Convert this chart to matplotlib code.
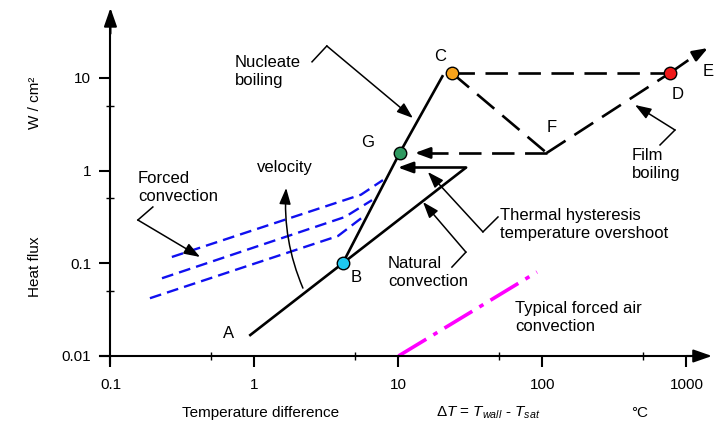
import matplotlib.pyplot as plt
from matplotlib.ticker import NullFormatter

plt.rcParams['font.family'] = ['Liberation Sans', 'DejaVu Sans']
plt.rcParams['mathtext.fontset'] = 'custom'
plt.rcParams['mathtext.rm'] = 'Liberation Sans'
plt.rcParams['mathtext.it'] = 'Liberation Sans:italic'

# axis ticks
X_TICKS = [0.1, 1, 10, 100, 1000]
X_TICK_LABELS = ['0.1', '1', '10', '100', '1000']
X_MINOR = [0.5, 5, 50, 500]
Y_TICKS = [0.01, 0.1, 1, 10]
Y_TICK_LABELS = ['0.01', '0.1', '1', '10']
Y_MINOR = [0.05, 0.5, 5]

# boiling curve: delta T (C) vs heat flux (W/cm2)
natural_dt = [0.92, 4.1, 29.5]
natural_q = [0.0165, 0.1, 1.08]
nucleate_dt = [4.1, 10.2, 20.4]
nucleate_q = [0.1, 1.55, 10.7]
hyst_dt = [29.5, 9.9]
hyst_q = [1.08, 1.08]
burnout_dt = [23.5, 768]      # C -> D
burnout_q = [11.3, 11.3]
transition_dt = [23.5, 107]   # C -> F
transition_q = [11.3, 1.55]
film_dt = [107, 768, 1409]    # F -> D -> E
film_q = [1.55, 11.3, 21.0]
return_dt = [107, 13.0]       # F -> G
return_q = [1.55, 1.55]

# forced convection, three velocities
forced_dt = [[0.267, 5.5, 7.8], [0.228, 4.25, 6.55], [0.188, 3.8, 5.66]]
forced_q = [[0.117, 0.55, 0.79], [0.069, 0.316, 0.48], [0.042, 0.197, 0.316]]

# typical forced air convection
air_dt = [10, 91.6]
air_q = [0.01, 0.0805]

point_dt = [4.1, 10.2, 23.5, 768]
point_q = [0.1, 1.55, 11.3, 11.3]
point_colors = ['#1ec8f0', '#2e9960', '#f7a21b', '#f01818']

letter_text = ['A', 'B', 'C', 'D', 'E', 'F', 'G']
letter_dt = [0.665, 5.07, 19.4, 873, 1409, 116, 6.14]
letter_q = [0.0177, 0.071, 17.2, 6.55, 11.6, 2.95, 1.99]

fig = plt.figure(figsize=(7.17, 4.21), dpi=100)
ax = fig.add_axes([0, 0, 1, 1])
ax.set_xscale('log')
ax.set_yscale('log')
ax.set_xlim(0.0171, 1629)
ax.set_ylim(0.00199, 69.2)

# axes drawn as crossing arrows
for s in ['top', 'right']:
    ax.spines[s].set_visible(False)
ax.spines['left'].set_position(('data', 0.1))
ax.spines['bottom'].set_position(('data', 0.01))
ax.spines['left'].set_bounds(0.0084, 50)
ax.spines['bottom'].set_bounds(0.0845, 1400)
for s in ['left', 'bottom']:
    ax.spines[s].set_linewidth(1.5)
head = '-|>,head_length=0.8,head_width=0.28'
ax.annotate('', xy=(1503, 0.01), xytext=(1000, 0.01),
            arrowprops=dict(arrowstyle=head, color='black', lw=1.5, mutation_scale=14, shrinkA=0, shrinkB=0))
ax.annotate('', xy=(0.1, 56.8), xytext=(0.1, 30),
            arrowprops=dict(arrowstyle=head, color='black', lw=1.5, mutation_scale=14, shrinkA=0, shrinkB=0))

ax.set_xticks(X_TICKS, X_TICK_LABELS)
ax.set_xticks(X_MINOR, minor=True)
ax.set_yticks(Y_TICKS, Y_TICK_LABELS)
ax.set_yticks(Y_MINOR, minor=True)
ax.xaxis.set_minor_formatter(NullFormatter())
ax.yaxis.set_minor_formatter(NullFormatter())
ax.tick_params(which='major', direction='out', length=8, width=1.5, labelsize=11)
ax.tick_params(axis='x', which='major', pad=8)
ax.tick_params(axis='y', which='major', pad=6)
ax.tick_params(which='minor', direction='inout', length=6, width=1.0)

# curves
lw = 1.9
dash = (8.5, 4)
ax.plot(forced_dt[0], forced_q[0], color='#1010f0', lw=1.7, dashes=(5, 2.6))
ax.plot(forced_dt[1], forced_q[1], color='#1010f0', lw=1.7, dashes=(5, 2.6))
ax.plot(forced_dt[2], forced_q[2], color='#1010f0', lw=1.7, dashes=(5, 2.6))
ax.plot(air_dt, air_q, color='#ff00ff', lw=2.6, dashes=(9, 2.3, 1.3, 2.3))
ax.plot(natural_dt, natural_q, color='black', lw=lw, solid_capstyle='butt')
ax.plot(nucleate_dt, nucleate_q, color='black', lw=lw, solid_capstyle='butt')
ax.annotate('', xy=(hyst_dt[1], hyst_q[1]), xytext=(hyst_dt[0], hyst_q[0]),
            arrowprops=dict(arrowstyle='-|>,head_length=0.6,head_width=0.22', color='black', lw=lw,
                            mutation_scale=15, shrinkA=0, shrinkB=0))
ax.plot(burnout_dt, burnout_q, color='black', lw=lw, dashes=dash)
ax.plot(transition_dt, transition_q, color='black', lw=lw, dashes=dash)
ax.plot(film_dt[:2], film_q[:2], color='black', lw=lw, dashes=dash)
ax.plot([film_dt[1], 1150], [film_q[1], 17.5], color='black', lw=lw, dashes=dash)
ax.annotate('', xy=(film_dt[2], film_q[2]), xytext=(1150, 17.5),
            arrowprops=dict(arrowstyle='-|>,head_length=0.6,head_width=0.22', color='black', lw=lw,
                            mutation_scale=15, shrinkA=0, shrinkB=0))
ax.plot([return_dt[0], 16.5], return_q, color='black', lw=lw, dashes=dash)
ax.annotate('', xy=(return_dt[1], return_q[1]), xytext=(16.5, 1.55),
            arrowprops=dict(arrowstyle='-|>,head_length=0.6,head_width=0.22', color='black', lw=lw,
                            mutation_scale=15, shrinkA=0, shrinkB=0))

for x, y, c in zip(point_dt, point_q, point_colors):
    ax.plot(x, y, 'o', ms=9, mfc=c, mec='black', mew=1.0, zorder=5)

for t, x, y in zip(letter_text, letter_dt, letter_q):
    ax.text(x, y, t, fontsize=12, ha='center', va='center')

# annotations: label, text anchor, leader bend points, arrow tip
leader_kw = dict(arrowstyle='-|>,head_length=0.7,head_width=0.25', color='black', lw=1.1,
                 mutation_scale=14, shrinkA=0, shrinkB=0)


def leader(label, txt_xy, bend, tip):
    ax.text(txt_xy[0], txt_xy[1], label, fontsize=12, ha='left', va='center', linespacing=1.25)
    ax.plot([p[0] for p in bend], [p[1] for p in bend], color='black', lw=1.1)
    ax.annotate('', xy=tip, xytext=bend[-1], arrowprops=leader_kw)


leader('Nucleate\nboiling', (0.733, 11.6), [(2.51, 14.9), (3.18, 22.1)], (12.6, 3.69))
leader('Forced\nconvection', (0.155, 0.649), [(0.197, 0.405), (0.155, 0.293)], (0.419, 0.117))
leader('Natural\nconvection', (8.45, 0.0805), [(23.5, 0.091), (29.4, 0.132)], (14.8, 0.458))
leader('Thermal hysteresis\ntemperature overshoot', (50.7, 0.265), [(49.1, 0.316), (38.6, 0.218)], (16.0, 0.966))
leader('Film\nboiling', (419, 1.15), [(655, 1.89), (832, 2.74)], (439, 5.1))
ax.text(64.4, 0.0257, 'Typical forced air\nconvection', fontsize=12, ha='left', va='center', linespacing=1.25)

ax.text(1.63, 1.07, 'velocity', fontsize=12, ha='center', va='center')
ax.annotate('', xy=(1.66, 0.65), xytext=(2.17, 0.054),
            arrowprops=dict(arrowstyle='-|>,head_length=0.7,head_width=0.25', color='black', lw=1.1,
                            mutation_scale=14, shrinkA=0, shrinkB=0, connectionstyle='arc3,rad=-0.12'))

# axis titles
W, H = 717, 421
fig.text(35 / W, 1 - 267 / H, 'Heat flux', rotation=90, fontsize=11, ha='center', va='center')
fig.text(35 / W, 1 - 103 / H, 'W / cm²', rotation=90, fontsize=11, ha='center', va='center')
fig.text(261 / W, 1 - 413 / H, 'Temperature difference', fontsize=11, ha='center', va='center')
fig.text(488 / W, 1 - 413 / H, r'$ΔT$ = $T_{wall}$ - $T_{sat}$', fontsize=11, ha='center', va='center')
fig.text(640 / W, 1 - 413 / H, '°C', fontsize=11, ha='center', va='center')

fig.savefig('out.png', dpi=100)
